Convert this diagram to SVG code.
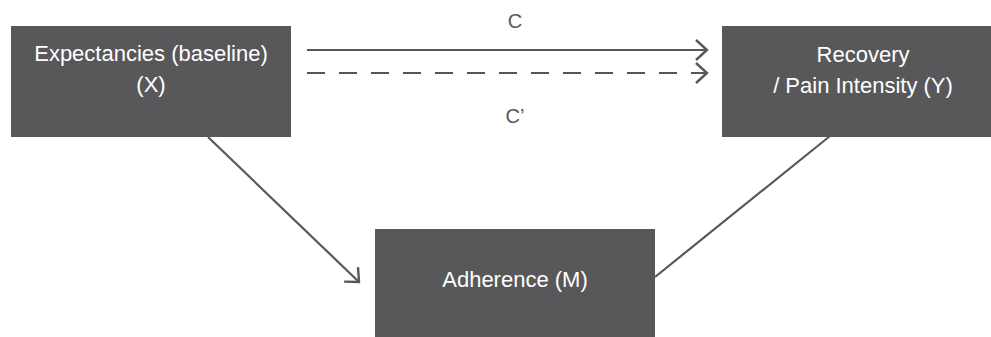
<svg xmlns="http://www.w3.org/2000/svg" width="991" height="337" viewBox="0 0 991 337">
<style>
.box{fill:#58585a}
.lbl{font-family:"Liberation Sans",Arial,sans-serif;font-size:22px;fill:#ffffff;text-anchor:middle}
.edge{stroke:#58585a;stroke-width:2.2;fill:none}
.elbl{font-family:"Liberation Sans",Arial,sans-serif;font-size:20px;fill:#58585a;text-anchor:middle}
</style>
<defs>
<marker id="arr" markerUnits="userSpaceOnUse" viewBox="-14 -12 16 24" refX="0" refY="0" markerWidth="16" markerHeight="24" orient="auto">
<path d="M-11,-10 L0,0 L-11,10" fill="none" stroke="#58585a" stroke-width="2.4"/>
</marker>
</defs>
<rect width="991" height="337" fill="#ffffff"/>
<g id="connectors">
<line class="edge" x1="307" y1="50" x2="707" y2="50" marker-end="url(#arr)"/>
<line class="edge" x1="307" y1="73" x2="707" y2="73" stroke-dasharray="18,14" marker-end="url(#arr)"/>
<line class="edge" x1="208" y1="137" x2="359" y2="282" marker-end="url(#arr)"/>
<line class="edge" x1="655" y1="277" x2="830" y2="136"/>
<text class="elbl" x="515" y="28">C</text>
<text class="elbl" x="515" y="123">C’</text>
</g>
<g id="nodeX">
<rect class="box" x="11" y="26" width="280" height="111"/>
<text class="lbl" x="151" y="61">Expectancies (baseline)</text>
<text class="lbl" x="151" y="92">(X)</text>
</g>
<g id="nodeY">
<rect class="box" x="722" y="26" width="280" height="111"/>
<text class="lbl" x="863" y="62">Recovery</text>
<text class="lbl" x="863" y="93">/ Pain Intensity (Y)</text>
</g>
<g id="nodeM">
<rect class="box" x="375" y="229" width="280" height="110"/>
<text class="lbl" x="515" y="287">Adherence (M)</text>
</g>
</svg>
